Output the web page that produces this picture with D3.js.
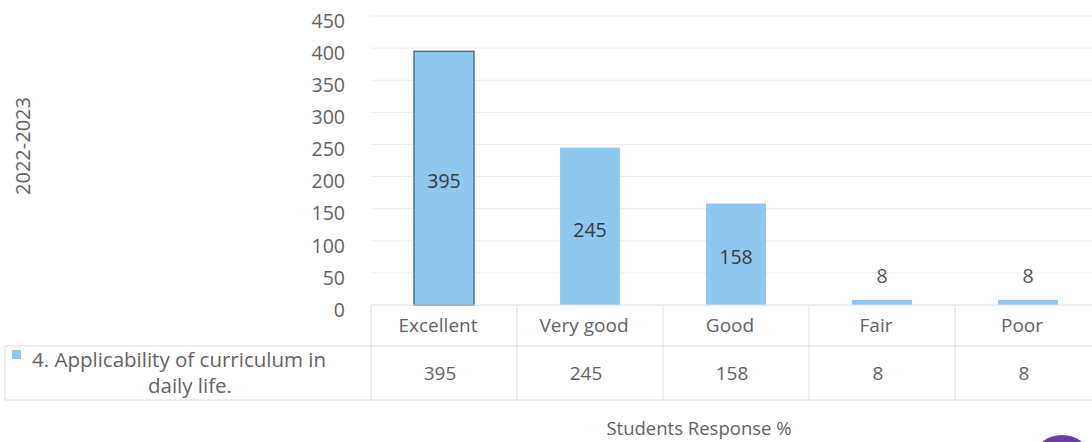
<!DOCTYPE html>
<html>
<head>
<meta charset="utf-8">
<script src="https://cdn.jsdelivr.net/npm/d3@7/dist/d3.min.js"></script>
<style>
	body { margin: 0; background: #fff; }
	svg { display: block; font-family: "Open Sans", Lato, sans-serif; }
	.tick text { fill: #636363; font-size: 19.5px; font-family: "Open Sans", sans-serif; }
	.grid line { stroke: #ededed; }
	.cell { stroke: #dedede; fill: none; }
</style>
</head>
<body>
<svg width="1092" height="442"></svg>
<script>

// data
var categories = ["Excellent", "Very good", "Good", "Fair", "Poor"];
var values = [395, 245, 158, 8, 8];
var seriesName = "4. Applicability of curriculum in daily life.";
var yTicks = [0, 50, 100, 150, 200, 250, 300, 350, 400, 450];

var svg = d3.select("svg");

var plotLeft = 371, plotRight = 1101, baseY = 305, topY = 16;

var x = d3.scaleBand()
	.domain(categories)
	.range([plotLeft, plotRight])
	.padding(0);

var y = d3.scaleLinear()
	.domain([0, 450])
	.range([baseY, topY]);

var barW = x.bandwidth() * 0.41;

// horizontal grid
svg.append("g")
	.attr("class", "grid")
	.selectAll("line")
	.data(yTicks.slice(1))
	.enter().append("line")
	.attr("x1", plotLeft)
	.attr("x2", 1092)
	.attr("y1", function (d) { return y(d); })
	.attr("y2", function (d) { return y(d); });

// y axis labels (no line)
var yAxis = svg.append("g")
	.attr("transform", "translate(" + plotLeft + ",5)")
	.call(d3.axisLeft(y).tickValues(yTicks).tickSize(0).tickPadding(26));
yAxis.select(".domain").remove();

// bars
svg.selectAll(".bar")
	.data(values)
	.enter().append("rect")
	.attr("class", "bar")
	.attr("x", function (d, i) { return x(categories[i]) + (x.bandwidth() - barW) / 2; })
	.attr("y", function (d) { return y(d); })
	.attr("width", barW)
	.attr("height", function (d) { return baseY - y(d); })
	.attr("fill", "#8ec8ef")
	.attr("stroke", function (d, i) { return i == 0 ? "#4f6f8f" : "none"; })
	.attr("stroke-width", 1.5);

// data labels
svg.selectAll(".lbl")
	.data(values)
	.enter().append("text")
	.attr("class", "lbl")
	.attr("x", function (d, i) { return x(categories[i]) + x.bandwidth() / 2; })
	.attr("y", function (d) {
		return d > 50 ? (y(d) + baseY) / 2 + 5 : y(d) - 22;
	})
	.attr("text-anchor", "middle")
	.attr("dominant-baseline", "middle")
	.attr("fill", function (d) { return d > 50 ? "#3a3a3a" : "#555"; })
	.style("font-size", "19.5px")
	.text(function (d) { return d; });

// data table
var rowTop = baseY, rowMid = 346, rowBot = 400;
var table = svg.append("g");

table.append("line").attr("class", "cell")
	.attr("x1", plotLeft).attr("x2", 1092).attr("y1", rowTop).attr("y2", rowTop);
table.append("line").attr("class", "cell")
	.attr("x1", 5).attr("x2", 1092).attr("y1", rowMid).attr("y2", rowMid);
table.append("line").attr("class", "cell")
	.attr("x1", 5).attr("x2", 1092).attr("y1", rowBot).attr("y2", rowBot);
table.append("line").attr("class", "cell")
	.attr("x1", 5).attr("x2", 5).attr("y1", rowMid).attr("y2", rowBot);

table.selectAll(".vline")
	.data(categories)
	.enter().append("line")
	.attr("class", "cell")
	.attr("x1", function (d) { return x(d); })
	.attr("x2", function (d) { return x(d); })
	.attr("y1", rowTop)
	.attr("y2", rowBot);

table.selectAll(".cat")
	.data(categories)
	.enter().append("text")
	.attr("x", function (d) { return x(d) + x.bandwidth() / 2 - 6; })
	.attr("y", 327)
	.attr("text-anchor", "middle")
	.attr("dominant-baseline", "middle")
	.attr("fill", "#636363")
	.style("font-size", "19px")
	.text(function (d) { return d; });

table.selectAll(".val")
	.data(values)
	.enter().append("text")
	.attr("x", function (d, i) { return x(categories[i]) + x.bandwidth() / 2 - 4; })
	.attr("y", 375)
	.attr("text-anchor", "middle")
	.attr("dominant-baseline", "middle")
	.attr("fill", "#636363")
	.style("font-size", "19px")
	.text(function (d) { return d; });

// legend key + series name (wrapped in two lines)
table.append("rect")
	.attr("x", 12).attr("y", 350)
	.attr("width", 9).attr("height", 9)
	.attr("fill", "#8ec8ef");

var words = seriesName.split(" ");
table.append("text")
	.attr("x", 32).attr("y", 367)
	.attr("fill", "#636363")
	.style("font-size", "20.5px")
	.text(words.slice(0, 5).join(" "));
table.append("text")
	.attr("x", 190).attr("y", 393)
	.attr("text-anchor", "middle")
	.attr("fill", "#636363")
	.style("font-size", "20.5px")
	.text(words.slice(5).join(" "));

// axis titles
svg.append("text")
	.attr("transform", "translate(30,146) rotate(-90)")
	.attr("text-anchor", "middle")
	.attr("fill", "#636363")
	.style("font-size", "20px")
	.text("2022-2023");

svg.append("text")
	.attr("x", 699)
	.attr("y", 435)
	.attr("text-anchor", "middle")
	.attr("fill", "#636363")
	.style("font-size", "18.5px")
	.text("Students Response %");

// partial logo in the corner
svg.append("ellipse")
	.attr("cx", 1062).attr("cy", 455)
	.attr("rx", 26).attr("ry", 20)
	.attr("fill", "#6b3fa0");

</script>
</body>
</html>
